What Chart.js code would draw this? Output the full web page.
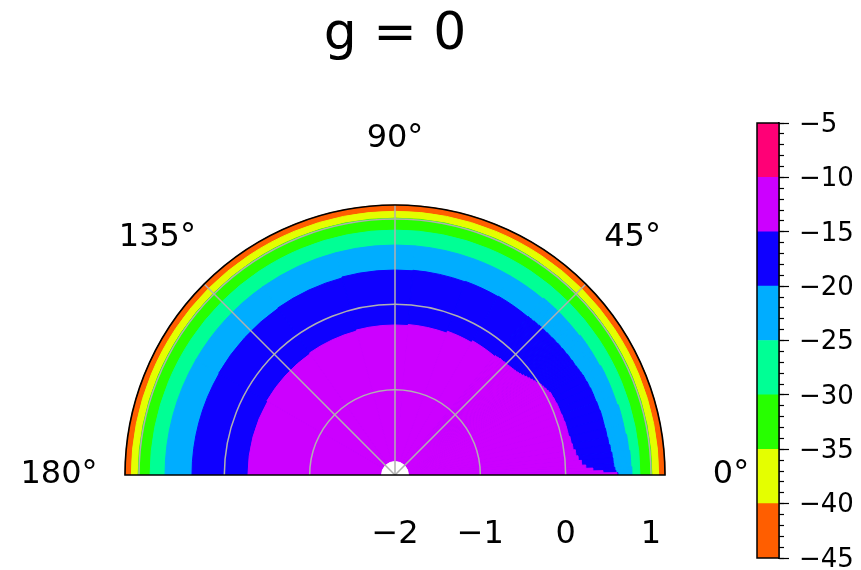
<!DOCTYPE html>
<html lang="en">
<head>
<meta charset="UTF-8">
<title>g = 0</title>
<script src="https://cdn.jsdelivr.net/npm/chart.js"></script>
<style>
  html, body { margin: 0; padding: 0; overflow: hidden; background: #fff; }
  #wrap { position: relative; width: 861px; height: 570px; overflow: hidden; }
  #polar { position: absolute; left: 0; top: 0; }
  #cbar { position: absolute; left: 700px; top: 0; }
</style>
</head>
<body>
<div id="wrap">
  <canvas id="polar" width="861" height="800"></canvas>
  <canvas id="cbar" width="161" height="581"></canvas>
</div>
<script>
const FONT = 'DejaVu Sans';
Chart.defaults.font.family = FONT;

// contour levels and fill colours (hsv colormap, one per band)
const levels = [-45, -40, -35, -30, -25, -20, -15, -10, -5];
const levelColors = ['#ff5e00', '#e4ff00', '#27ff00', '#00ff95', '#00adff', '#0f00ff', '#cc00ff', '#ff0076'];

// theta axis, listed clockwise from 180°
const thetaLabels = ['180°', '135°', '90°', '45°', '0°', '', '', ''];
const thetaGrid = [false, true, true, true, false, false, false, false];

// radial axis (log10 r)
const rMin = -2;
const rMax = 1.164;
const rCore = [-1.842];   // innermost sampled radius, nothing inside

// slice edges (deg) for the contours that bend near 0°
const sliceEdges = [180, 150, 125, 105, 85, 70, 60,
                    50, 49, 48, 47, 46, 45, 44, 43, 42, 41, 40, 39, 38, 37, 36, 35, 34, 33, 32, 31, 30, 29,
                    28, 26, 24, 22, 20, 17.5, 15, 12.5, 10, 8, 6, 4.5, 3, 2, 1.2, 0.6, 0];

// contour radii per slice
const r15 = [-0.277, -0.266, -0.254, -0.242, -0.230, -0.207, -0.184,
             -0.172, -0.166, -0.160, -0.160, -0.154, -0.154, -0.148, -0.143, -0.137, -0.131, -0.119,
             -0.107, -0.090, -0.072, -0.055, -0.037, -0.020, -0.002, 0.016, 0.027, 0.039, 0.051,
             0.063, 0.068, 0.074, 0.074, 0.080, 0.086, 0.086, 0.098, 0.109, 0.133, 0.156, 0.191,
             0.238, 0.320, 0.438, 0.602];
const r20 = [0.379, 0.385, 0.391, 0.402, 0.408, 0.414, 0.420,
             0.426, 0.426, 0.432, 0.432, 0.438, 0.438, 0.438, 0.443, 0.443, 0.449, 0.449,
             0.455, 0.455, 0.461, 0.461, 0.467, 0.467, 0.473, 0.473, 0.479, 0.484, 0.490,
             0.496, 0.502, 0.508, 0.508, 0.514, 0.520, 0.520, 0.525, 0.531, 0.543, 0.555, 0.561,
             0.566, 0.578, 0.590, 0.613];
const r25 = [0.695, 0.695, 0.695, 0.695, 0.695, 0.695, 0.695,
             0.707, 0.707, 0.707, 0.707, 0.707, 0.707, 0.707, 0.707, 0.707, 0.707, 0.707,
             0.707, 0.707, 0.719, 0.719, 0.719, 0.719, 0.719, 0.719, 0.719, 0.719, 0.719,
             0.730, 0.730, 0.730, 0.730, 0.730, 0.742, 0.742, 0.742, 0.754, 0.754, 0.766, 0.766,
             0.766, 0.777, 0.777, 0.777];
// outer contours are circular
const r30 = [0.87];
const r35 = [1.01];
const r40 = [1.09];

const sliceWidths = sliceEdges.slice(1).map((e, i) => sliceEdges[i] - e);

function band(radii, color) {
  const widths = radii.length > 1 ? sliceWidths : [180];
  return {
    data: radii,
    backgroundColor: color,
    borderColor: color,
    borderWidth: 1,
    angle: c => widths[c.dataIndex]
  };
}

const minus = v => String(v).replace('-', '\u2212');

// clip the grid to the upper half, then draw spine and labels
const polarDecor = {
  id: 'polarDecor',
  beforeDatasetsDraw(chart) {
    const s = chart.scales.r, ctx = chart.ctx;
    ctx.save();
    ctx.beginPath();
    ctx.rect(0, 0, chart.width, s.yCenter);
    ctx.clip();
  },
  afterDraw(chart) {
    const s = chart.scales.r, ctx = chart.ctx;
    ctx.restore();
    ctx.save();
    ctx.strokeStyle = '#000';
    ctx.lineWidth = 1.6;
    ctx.beginPath();
    ctx.arc(s.xCenter, s.yCenter, s.drawingArea, Math.PI, 2 * Math.PI);
    ctx.closePath();
    ctx.stroke();

    ctx.fillStyle = '#000';
    ctx.font = '32px ' + FONT;
    ctx.textAlign = 'center';
    ctx.textBaseline = 'middle';
    chart.data.labels.forEach((lbl, i) => {
      if (!lbl) return;
      const p = s.getPointPosition(i, s.drawingArea + 66);
      ctx.fillText(lbl, p.x, p.y);
    });
    s.ticks.forEach(t => {
      const x = s.xCenter + s.getDistanceFromCenterForValue(t.value);
      ctx.fillText(minus(t.value), x, s.yCenter + 60);
    });
    ctx.restore();
  }
};

new Chart(document.getElementById('polar'), {
  type: 'polarArea',
  data: {
    labels: thetaLabels,
    datasets: [
      band(rCore, '#ffffff'),
      band(r15, levelColors[6]),
      band(r20, levelColors[5]),
      band(r25, levelColors[4]),
      band(r30, levelColors[3]),
      band(r35, levelColors[2]),
      band(r40, levelColors[1]),
      band([rMax], levelColors[0])
    ]
  },
  options: {
    responsive: false,
    animation: false,
    events: [],
    layout: { padding: { left: 125, right: 196, top: 0, bottom: 55 } },
    plugins: {
      legend: { display: false },
      tooltip: { enabled: false },
      title: {
        display: true,
        text: 'g = 0',
        color: '#000',
        font: { family: FONT, size: 52, weight: 'normal', lineHeight: 1 },
        padding: { top: 9, bottom: 144 }
      }
    },
    scales: {
      r: {
        min: rMin,
        max: rMax,
        startAngle: -90,
        ticks: { display: false, stepSize: 1, includeBounds: false },
        pointLabels: { display: false },
        grid: { circular: true, color: '#b0b0b0', lineWidth: 1.5, z: 1 },
        angleLines: {
          display: true,
          color: '#b0b0b0',
          lineWidth: c => thetaGrid[c.index] ? 1.5 : 0
        }
      }
    }
  },
  plugins: [polarDecor]
});

// colorbar
const cbarOutline = {
  id: 'cbarOutline',
  afterDatasetsDraw(chart) {
    const a = chart.chartArea, ctx = chart.ctx;
    ctx.save();
    ctx.strokeStyle = '#000';
    ctx.lineWidth = 1.5;
    ctx.strokeRect(a.left, a.top, a.right - a.left, a.bottom - a.top);
    ctx.restore();
  }
};

new Chart(document.getElementById('cbar'), {
  type: 'bar',
  data: {
    labels: [''],
    datasets: levelColors.map((col, i) => ({
      data: [[levels[i], levels[i + 1]]],
      backgroundColor: col,
      borderWidth: 0,
      grouped: false,
      barPercentage: 1,
      categoryPercentage: 1
    }))
  },
  options: {
    responsive: false,
    animation: false,
    events: [],
    layout: { padding: { left: 57, top: 123, bottom: 13, right: 0 } },
    plugins: { legend: { display: false }, tooltip: { enabled: false } },
    scales: {
      x: { display: false },
      yMinor: {
        axis: 'y',
        position: 'right',
        weight: 0,
        min: levels[0],
        max: levels[levels.length - 1],
        ticks: { display: false, stepSize: 1 },
        grid: { drawOnChartArea: false, tickLength: 5, tickWidth: 1.2, tickColor: '#000' },
        border: { display: false },
        afterFit: s => { s.width = 0; }
      },
      y: {
        position: 'right',
        weight: 1,
        min: levels[0],
        max: levels[levels.length - 1],
        ticks: {
          stepSize: 5,
          autoSkip: false,
          padding: 10,
          labelOffset: 2,
          color: '#000',
          font: { family: FONT, size: 26, lineHeight: 1 },
          callback: v => minus(v)
        },
        grid: { drawOnChartArea: false, tickLength: 10, tickWidth: 1.2, tickColor: '#000' },
        border: { color: '#000', width: 1.5 },
        afterFit: s => { s.width = 82; }
      }
    }
  },
  plugins: [cbarOutline]
});
</script>
</body>
</html>
